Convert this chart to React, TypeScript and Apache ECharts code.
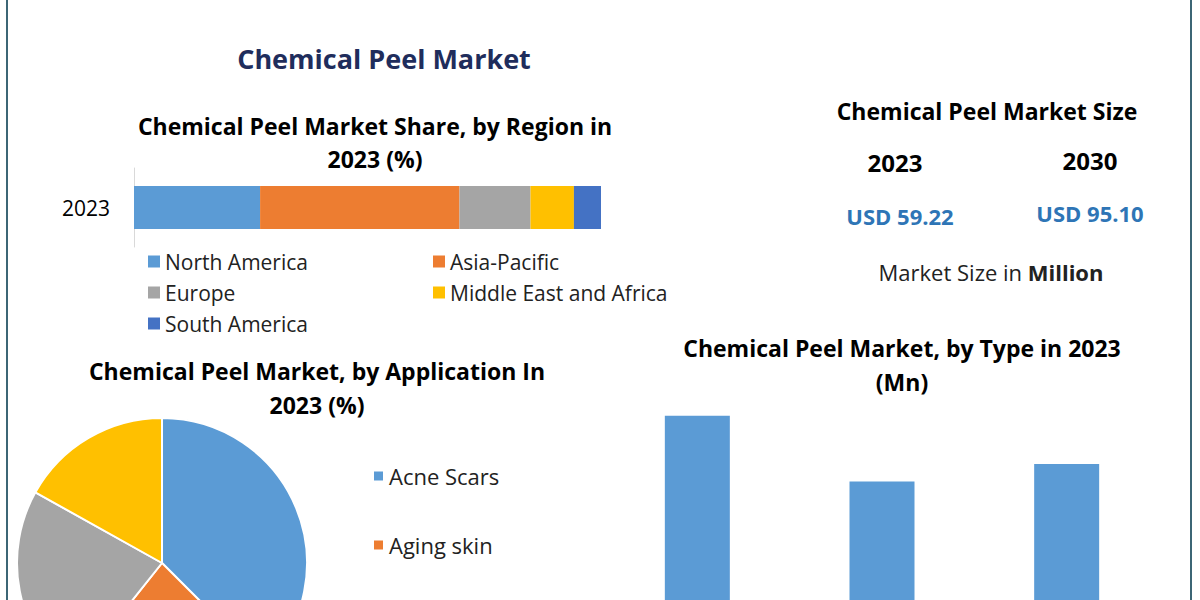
import React, { useEffect, useRef } from "react";
import * as echarts from "echarts";

// ---- Data ----
const regionYear = ["2023"];
const regionNames = ["North America", "Asia-Pacific", "Europe", "Middle East and Africa", "South America"];
const regionShares = [27.0, 42.7, 15.2, 9.3, 5.8];
const regionColors = ["#5B9BD5", "#ED7D31", "#A5A5A5", "#FFC000", "#4472C4"];

const appNames = ["Acne Scars", "Aging skin", "Pigmentation", "Others"];
const appShares = [37.5, 23.2, 22.4, 16.9];
const appColors = ["#5B9BD5", "#ED7D31", "#A5A5A5", "#FFC000"];
const appLegendVisible = ["Acne Scars", "Aging skin"];

const typeNames = ["Superficial Peel", "Medium Peel", "Deep Peel"];
const typeValues = [23.2, 17.2, 18.8];

const sizeYears = ["2023", "2030"];
const sizeValues = ["USD 59.22", "USD 95.10"];

const FONT = "'Open Sans', 'Noto Sans', sans-serif";

export default function App() {
  const ref = useRef<HTMLDivElement>(null);

  useEffect(() => {
    document.body.style.margin = "0";
    if (!ref.current) return;
    const chart = echarts.init(ref.current, null, { renderer: "svg" });

    const txt = (text: string, x: number, y: number, size: number, color = "#000", weight: any = "bold") => ({
      type: "text",
      x,
      y,
      silent: true,
      style: {
        text,
        fill: color,
        fontSize: size,
        fontWeight: weight,
        fontFamily: FONT,
        align: "center",
        verticalAlign: "middle",
      },
    });

    const option: any = {
      animation: false,
      backgroundColor: "#ffffff",
      textStyle: { fontFamily: FONT },
      grid: [
        { left: 134, top: 168, width: 467, height: 79 },
        { left: 605, top: 396, width: 554, bottom: 0 },
      ],
      xAxis: [
        {
          gridIndex: 0,
          type: "value",
          min: 0,
          max: 100,
          show: false,
        },
        {
          gridIndex: 1,
          type: "category",
          data: typeNames,
          axisLine: { show: false },
          axisTick: { show: false },
          axisLabel: { show: false },
        },
      ],
      yAxis: [
        {
          gridIndex: 0,
          type: "category",
          data: regionYear,
          axisLine: { show: true, lineStyle: { color: "#d9d9d9", width: 1 } },
          axisTick: { show: false },
          axisLabel: { color: "#000", fontSize: 21, margin: 24, fontFamily: FONT },
        },
        {
          gridIndex: 1,
          type: "value",
          min: 6.39,
          max: 25,
          show: false,
          splitLine: { show: false },
        },
      ],
      legend: [
        {
          data: [regionNames[0], regionNames[2], regionNames[4]],
          orient: "vertical",
          left: 148,
          top: 251,
          padding: 0,
          icon: "rect",
          itemWidth: 12,
          itemHeight: 12,
          itemGap: 10,
          textStyle: { fontSize: 21, color: "#222", lineHeight: 21, fontFamily: FONT },
        },
        {
          data: [regionNames[1], regionNames[3]],
          orient: "vertical",
          left: 433,
          top: 251,
          padding: 0,
          icon: "rect",
          itemWidth: 12,
          itemHeight: 12,
          itemGap: 10,
          textStyle: { fontSize: 21, color: "#222", lineHeight: 21, fontFamily: FONT },
        },
        {
          data: appLegendVisible,
          orient: "vertical",
          left: 372,
          top: 465,
          height: 400,
          padding: 0,
          icon: "rect",
          itemWidth: 11,
          itemHeight: 11,
          itemGap: 47,
          textStyle: { fontSize: 22, color: "#222", lineHeight: 22, fontFamily: FONT },
        },
      ],
      series: [
        ...regionNames.map((name, i) => ({
          name,
          type: "bar",
          stack: "region",
          xAxisIndex: 0,
          yAxisIndex: 0,
          barWidth: 43,
          itemStyle: { color: regionColors[i] },
          data: [regionShares[i]],
        })),
        {
          name: "Type",
          type: "bar",
          xAxisIndex: 1,
          yAxisIndex: 1,
          barWidth: 65,
          itemStyle: { color: "#5B9BD5" },
          data: typeValues,
        },
        {
          name: "Application",
          type: "pie",
          center: [162, 563],
          radius: 145,
          startAngle: 90,
          clockwise: true,
          label: { show: false },
          labelLine: { show: false },
          itemStyle: { borderColor: "#ffffff", borderWidth: 2 },
          data: appNames.map((n, i) => ({ name: n, value: appShares[i], itemStyle: { color: appColors[i] } })),
        },
      ],
      graphic: [
        { type: "line", shape: { x1: 7, y1: 0, x2: 7, y2: 600 }, style: { stroke: "#3c6675", lineWidth: 2 } },
        { type: "line", shape: { x1: 1191, y1: 0, x2: 1191, y2: 600 }, style: { stroke: "#3c6675", lineWidth: 2 } },
        txt("Chemical Peel Market", 384, 58, 27, "#1F2D5C"),
        txt("Chemical Peel Market Share, by Region in", 375, 126, 23),
        txt("2023 (%)", 375, 159, 23),
        txt("Chemical Peel Market Size", 987, 111, 23),
        txt(sizeYears[0], 895, 162, 24),
        txt(sizeYears[1], 1090, 160, 24),
        txt(sizeValues[0], 900, 216, 22, "#2E75B6"),
        txt(sizeValues[1], 1090, 213, 22, "#2E75B6"),
        {
          type: "text",
          x: 991,
          y: 272,
          silent: true,
          style: {
            text: "{a|Market Size in }{b|Million}",
            align: "center",
            verticalAlign: "middle",
            rich: {
              a: { fontSize: 22, fill: "#222", fontFamily: FONT, fontWeight: "normal" },
              b: { fontSize: 22, fill: "#222", fontFamily: FONT, fontWeight: "bold" },
            },
          },
        },
        txt("Chemical Peel Market, by Type in 2023", 902, 348, 23),
        txt("(Mn)", 902, 382, 23),
        txt("Chemical Peel Market, by Application In", 317, 371, 23),
        txt("2023 (%)", 317, 405, 23),
      ],
    };

    chart.setOption(option);
    return () => chart.dispose();
  }, []);

  return <div ref={ref} style={{ width: 1200, height: 600 }} />;
}
